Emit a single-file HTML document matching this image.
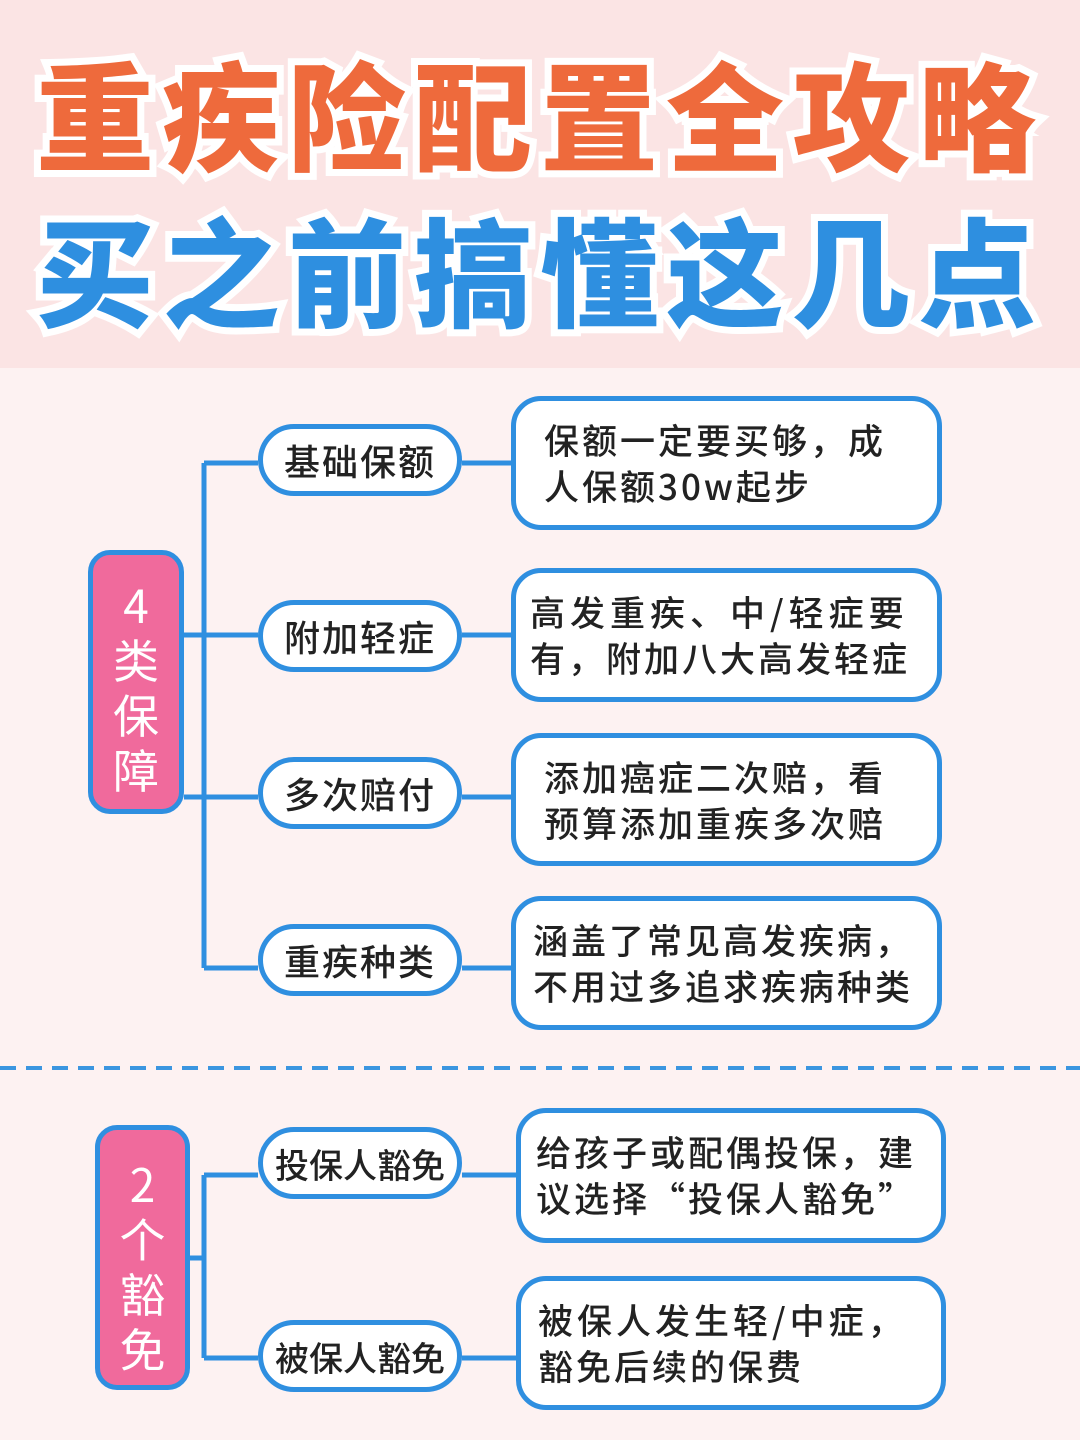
<!DOCTYPE html>
<html><head><meta charset="utf-8"><style>
*{margin:0;padding:0;box-sizing:border-box}
body{width:1080px;height:1440px;background:#fdf2f2;position:relative;overflow:hidden;font-family:"Liberation Sans","Noto Sans CJK SC",sans-serif;color:#222}
.hdr{position:absolute;left:0;top:0;width:1080px;height:368px;background:#fbe4e4}
.t{position:absolute;left:0;width:1080px;text-align:center;font-family:"Noto Sans CJK SC",sans-serif;font-weight:900;font-size:118px;letter-spacing:8px;line-height:1;-webkit-text-stroke:14px #fff;paint-order:stroke fill}
.pill{position:absolute;left:258px;width:204px;height:72px;border:5px solid #2f8fe0;border-radius:36px;background:#fff;font-size:36px;font-weight:500;letter-spacing:2px;display:flex;align-items:center;justify-content:center;font-family:"Noto Sans CJK SC",sans-serif}
.box{position:absolute;border:5px solid #2f8fe0;border-radius:30px;background:#fff;font-family:"Noto Sans CJK SC",sans-serif;font-size:35px;font-weight:500;line-height:46px;letter-spacing:3px;padding-top:16px;white-space:nowrap}
.pk{position:absolute;border:5px solid #2f8fe0;border-radius:22px;background:#f06a9c;color:#fff;font-family:"Noto Sans CJK SC",sans-serif;font-size:46px;line-height:55px;text-align:center;padding-top:22px}
</style></head><body>
<div class="hdr"></div>
<div class="t" style="top:52px;color:#ee6a3c">重疾险配置全攻略</div>
<div class="t" style="top:208px;color:#2e8fe0">买之前搞懂这几点</div>
<svg style="position:absolute;left:0;top:0" width="1080" height="1440">
<g stroke="#2f8fe0" stroke-width="5" fill="none">
<path d="M204 463V968M184 635H258M184 797H258M204 463H258M204 968H258M462 463H511M462 635H511M462 797H511M462 968H511"/>
<path d="M204 1175V1358M190 1258H204M204 1175H258M204 1358H258M462 1175H516M462 1358H516"/>
<line x1="0" y1="1068" x2="1080" y2="1068" stroke-dasharray="16 10" stroke-width="4" stroke="#3b96e0"/>
</g></svg>
<div class="pk" style="left:88px;top:550px;width:96px;height:264px">4<br>类<br>保<br>障</div>
<div class="pk" style="left:95px;top:1125px;width:95px;height:265px;padding-top:26px">2<br>个<br>豁<br>免</div>
<div class="pill" style="top:424px">基础保额</div>
<div class="pill" style="top:600px">附加轻症</div>
<div class="pill" style="top:757px">多次赔付</div>
<div class="pill" style="top:924px">重疾种类</div>
<div class="pill" style="top:1127px;font-size:34px;letter-spacing:0">投保人豁免</div>
<div class="pill" style="top:1320px;font-size:34px;letter-spacing:0">被保人豁免</div>
<div class="box" style="left:511px;top:396px;width:431px;height:134px;padding-left:28px">保额一定要买够，成<br>人保额30w起步</div>
<div class="box" style="left:511px;top:568px;width:431px;height:134px;padding-left:14px"><span style="letter-spacing:5px">高发重疾、中/轻症要</span><br>有，附加八大高发轻症</div>
<div class="box" style="left:511px;top:733px;width:431px;height:133px;padding-left:28px">添加癌症二次赔，看<br>预算添加重疾多次赔</div>
<div class="box" style="left:511px;top:896px;width:431px;height:134px;padding-left:17px">涵盖了常见高发疾病，<br>不用过多追求疾病种类</div>
<div class="box" style="left:516px;top:1108px;width:430px;height:135px;padding-left:15px">给孩子或配偶投保，建<br>议选择“投保人豁免”</div>
<div class="box" style="left:516px;top:1276px;width:430px;height:134px;padding-left:17px"><span style="letter-spacing:4px">被保人发生轻/中症，</span><br>豁免后续的保费</div>
</body></html>
